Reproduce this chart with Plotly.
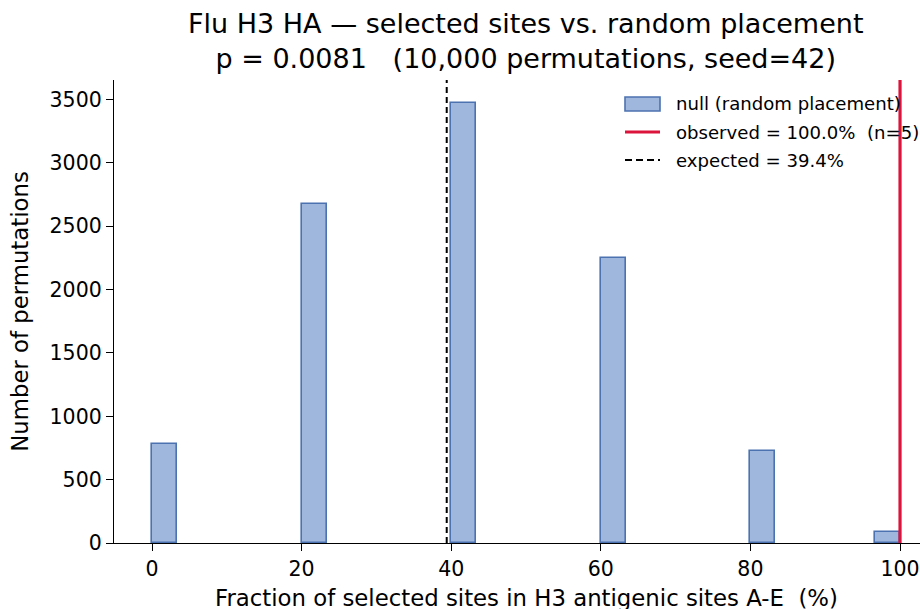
import numpy as np
import plotly.graph_objects as go

# Null distribution: share of the n=5 selected sites falling inside antigenic sites A-E
fractions = [0, 20, 40, 60, 80, 100]          # possible outcomes (%)
counts = [781, 2679, 3476, 2250, 727, 87]      # permutations per outcome (total 10,000)
n_bins = 30
observed_pct = 100.0
expected_pct = 39.4

legend_labels = ["null (random placement)",
                 "observed = 100.0%  (n=5)",
                 "expected = 39.4%"]

bin_w = 100.0 / n_bins
bin_idx = [min(int(np.floor(v / bin_w + 1e-9)), n_bins - 1) for v in fractions]
bar_x = [(i + 0.5) * bin_w for i in bin_idx]

FONT = "DejaVu Sans"
fill = "rgb(160,183,221)"
edge = "#4C72B0"
red = "#DC143C"

# plot-area geometry (pixels)
W, H = 920, 609
L, R, T, B = 114, 0, 80, 66
PW, PH = W - L - R, H - T - B


def px(xp):
    return (xp - L) / PW


def py(yp):
    return (T + PH - yp) / PH


fig = go.Figure()
fig.add_trace(go.Bar(
    x=bar_x, y=counts, width=[bin_w] * len(bar_x),
    marker=dict(color=fill, line=dict(color=edge, width=1.6)),
    name=legend_labels[0], showlegend=False,
))
fig.add_trace(go.Scatter(
    x=[observed_pct, observed_pct], y=[0, 3660], mode="lines",
    line=dict(color=red, width=3.2), name=legend_labels[1], showlegend=False,
))
fig.add_trace(go.Scatter(
    x=[expected_pct, expected_pct], y=[0, 3660], mode="lines",
    line=dict(color="black", width=2, dash="6px,4px"),
    name=legend_labels[2], showlegend=False,
))

axis_common = dict(
    showline=True, linecolor="black", linewidth=1.3,
    ticks="outside", ticklen=7, tickwidth=1.3, tickcolor="black",
    showgrid=False, zeroline=False,
    tickfont=dict(family=FONT, size=20.5, color="black"),
)
fig.update_xaxes(
    range=[-5.08, 102.67], tickvals=[0, 20, 40, 60, 80, 100],
    **axis_common,
)
fig.update_yaxes(
    range=[0, 3655], tickvals=[0, 500, 1000, 1500, 2000, 2500, 3000, 3500],
    title=dict(text="Number of permutations",
               font=dict(family=FONT, size=22.8, color="black"), standoff=14),
    **axis_common,
)

# legend drawn as shapes + text in the upper right
shapes = [
    dict(type="rect", xref="paper", yref="paper",
         x0=px(625), x1=px(660), y0=py(111), y1=py(97),
         fillcolor=fill, line=dict(color=edge, width=1.6)),
    dict(type="line", xref="paper", yref="paper",
         x0=px(625), x1=px(660), y0=py(132), y1=py(132),
         line=dict(color=red, width=3.2)),
    dict(type="line", xref="paper", yref="paper",
         x0=px(625), x1=px(660), y0=py(160), y1=py(160),
         line=dict(color="black", width=2, dash="7px,4px")),
]
annotations = [
    dict(text=lbl, xref="paper", yref="paper", x=px(674), y=py(yc),
         xanchor="left", yanchor="middle", showarrow=False,
         font=dict(family=FONT, size=18.1, color="black"))
    for lbl, yc in zip(legend_labels, [104, 132, 160])
]
annotations.append(dict(
    text="Flu H3 HA — selected sites vs. random placement<br>"
         "p = 0.0081   (10,000 permutations, seed=42)",
    xref="paper", yref="paper", x=px(525), y=py(41),
    xanchor="center", yanchor="middle", showarrow=False,
    font=dict(family=FONT, size=27, color="black"),
))
# x-axis label, centred on the full axis span (-5..105)
annotations.append(dict(
    text="Fraction of selected sites in H3 antigenic sites A-E  (%)",
    xref="paper", yref="paper", x=px(526), y=py(598),
    xanchor="center", yanchor="middle", showarrow=False,
    font=dict(family=FONT, size=22.8, color="black"),
))

fig.update_layout(
    width=W, height=H,
    margin=dict(l=L, r=R, t=T, b=B),
    paper_bgcolor="white", plot_bgcolor="white",
    font=dict(family=FONT, color="black"),
    bargap=0, showlegend=False,
    shapes=shapes, annotations=annotations,
)

fig.write_html("out.html")
